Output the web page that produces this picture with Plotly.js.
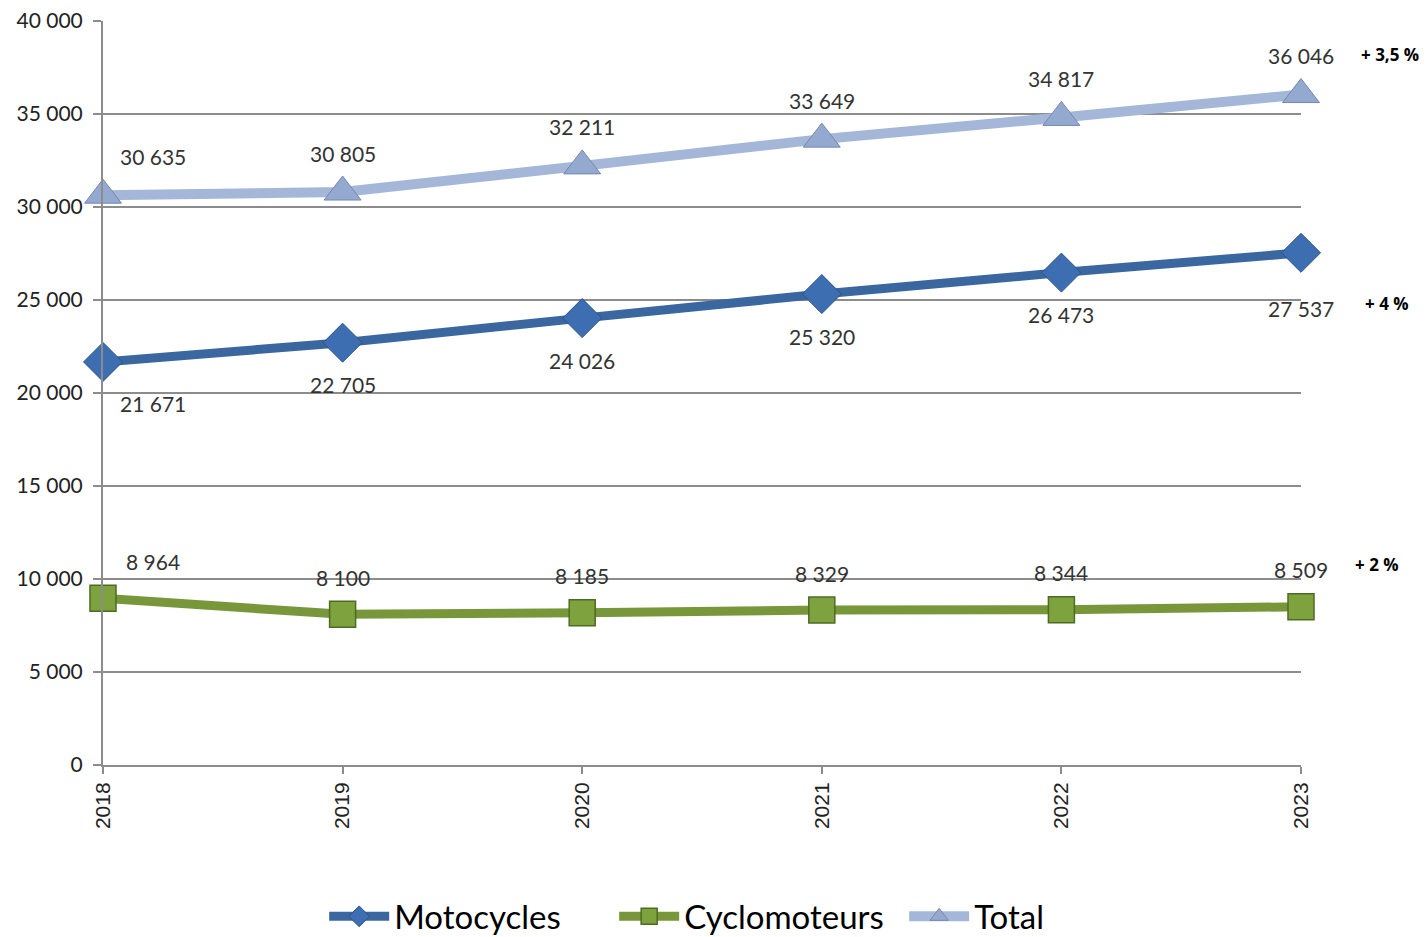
<!DOCTYPE html>
<html><head><meta charset="utf-8">
<script src="https://cdn.plot.ly/plotly-3.0.1.min.js"></script>
<style>html,body{margin:0;padding:0;background:#fff}#chart{width:1427px;height:937px}</style>
</head><body><div id="chart"></div>
<script>
const years = [2018, 2019, 2020, 2021, 2022, 2023];
const motocycles = [21671, 22705, 24026, 25320, 26473, 27537];
const cyclomoteurs = [8964, 8100, 8185, 8329, 8344, 8509];
const total = [30635, 30805, 32211, 33649, 34817, 36046];
const growthLabels = ['+ 4 %', '+ 2 %', '+ 3,5 %'];

function fmt(v){ return String(v).replace(/\B(?=(\d{3})+(?!\d))/g, ' '); }

const traces = [
  {x: years, y: motocycles, name: 'Motocycles', mode: 'lines+markers', cliponaxis: false,
   line: {color: '#3B67A0', width: 9},
   marker: {symbol: 'diamond', size: 30, color: '#3D6EB1', line: {color: '#2D5288', width: 1}}},
  {x: years, y: cyclomoteurs, name: 'Cyclomoteurs', mode: 'lines+markers', cliponaxis: false,
   line: {color: '#77973A', width: 9},
   marker: {symbol: 'square', size: 26, color: '#7DA23E', line: {color: '#4E6B22', width: 1.5}}},
  {x: years, y: total, name: 'Total', mode: 'lines+markers', cliponaxis: false,
   line: {color: '#A5B7D8', width: 10},
   marker: {symbol: 'triangle-up', size: 32, color: '#93A9D0', line: {color: '#7588AE', width: 1}}}
];

const labelFont = {family: 'Lato, "Open Sans", sans-serif', size: 21, color: '#333333'};
const annotations = [];
years.forEach((yr, i) => {
  const xs = i === 0 ? 50 : 0;
  annotations.push({x: yr, y: total[i], text: fmt(total[i]), showarrow: false, xshift: xs, yshift: 39, font: labelFont});
  annotations.push({x: yr, y: motocycles[i], text: fmt(motocycles[i]), showarrow: false, xshift: xs, yshift: i === years.length - 1 ? -56 : -42, font: labelFont});
  annotations.push({x: yr, y: cyclomoteurs[i], text: fmt(cyclomoteurs[i]), showarrow: false, xshift: xs, yshift: 37, font: labelFont});
});
const pctFont = {family: '"Open Sans", Lato, sans-serif', size: 17, color: '#000'};
const last = years.length - 1;
annotations.push({xref: 'paper', x: 1, xanchor: 'center', y: motocycles[last], text: '<b>' + growthLabels[0] + '</b>', showarrow: false, xshift: 86, yshift: -51, font: pctFont});
annotations.push({xref: 'paper', x: 1, xanchor: 'center', y: cyclomoteurs[last], text: '<b>' + growthLabels[1] + '</b>', showarrow: false, xshift: 76, yshift: 42, font: pctFont});
annotations.push({xref: 'paper', x: 1, xanchor: 'center', y: total[last], text: '<b>' + growthLabels[2] + '</b>', showarrow: false, xshift: 89, yshift: 40, font: pctFont});

const layout = {
  width: 1427, height: 937,
  margin: {l: 103, r: 126, t: 21, b: 172, autoexpand: false},
  paper_bgcolor: '#ffffff', plot_bgcolor: '#ffffff',
  separators: ', ',
  showlegend: true,
  legend: {orientation: 'h', x: 0.532, xref: 'container', xanchor: 'center', y: 0.022, yref: 'container', yanchor: 'middle',
           font: {family: 'Lato, "Open Sans", sans-serif', size: 33, color: '#000'},
           itemwidth: 60, entrywidth: 215},
  xaxis: {range: [2018, 2023], tickvals: years, ticktext: years.map(String), tickangle: -90, automargin: false,
          showgrid: false, zeroline: false, showline: true, linecolor: '#8C8C8C', linewidth: 2,
          ticks: 'outside', ticklen: 7, tickcolor: '#8C8C8C', tickwidth: 2,
          tickfont: {family: '"Liberation Sans", Arial, sans-serif', size: 21, color: '#222'}},
  yaxis: {range: [0, 40000], dtick: 5000, tickformat: ',d', automargin: false,
          showgrid: true, gridcolor: '#8C8C8C', gridwidth: 1.5, zeroline: false,
          showline: true, linecolor: '#8C8C8C', linewidth: 2,
          ticks: 'outside', ticklen: 8, tickcolor: '#8C8C8C', tickwidth: 2, ticklabelstandoff: 6,
          tickfont: {family: 'Lato, "Open Sans", sans-serif', size: 21, color: '#222'}},
  annotations: annotations
};

Plotly.newPlot('chart', traces, layout, {displayModeBar: false, staticPlot: true});
</script></body></html>
